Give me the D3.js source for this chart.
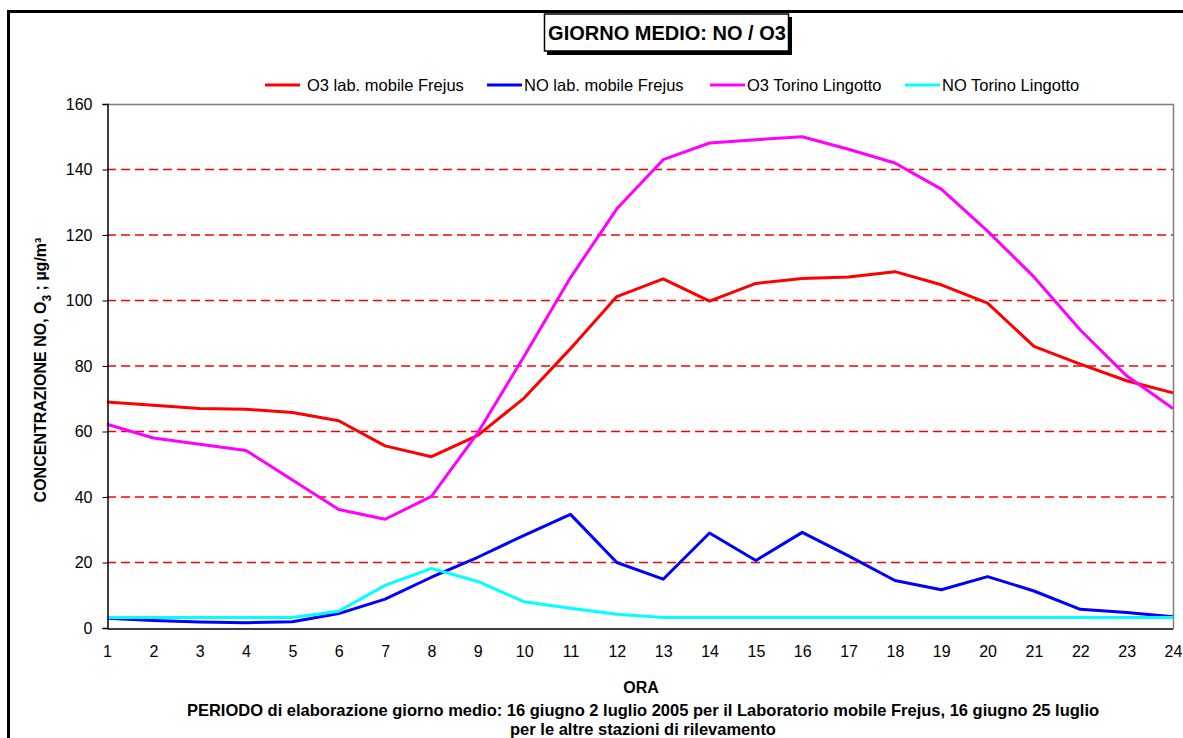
<!DOCTYPE html>
<html>
<head>
<meta charset="utf-8">
<script src="https://cdn.jsdelivr.net/npm/d3@7"></script>
<style>
  body { margin: 0; background: #fff; }
  svg { display: block; font-family: 'Liberation Sans', Arial, sans-serif; }
</style>
</head>
<body>
<svg id="chart"></svg>
<script>
const hours = d3.range(1, 25)
const yTicks = [0, 20, 40, 60, 80, 100, 120, 140, 160]

const o3Frejus = [69, 68, 67, 66.8, 65.8, 63.3, 55.6, 52.3, 58.8, 70.2, 85.3, 101.2, 106.6, 99.8, 105.2, 106.7, 107.2, 108.8, 104.8, 99.2, 86, 80.6, 75.5, 71.8]
const noFrejus = [3, 2.3, 1.8, 1.6, 1.9, 4.4, 8.8, 15.5, 21.6, 28.3, 34.7, 20, 14.9, 29, 20.6, 29.2, 22, 14.5, 11.7, 15.7, 11.3, 5.7, 4.7, 3.4]
const o3Torino = [62.2, 58, 56.1, 54.2, 45.2, 36.2, 33.2, 40.2, 59.6, 83, 107, 128, 143, 148.1, 149.1, 150, 146.2, 142, 134, 121.2, 107.2, 91, 77, 67]
const noTorino = [3.2, 3.2, 3.2, 3.2, 3.2, 5.1, 13, 18.2, 14.2, 8, 6, 4.2, 3.2, 3.2, 3.2, 3.2, 3.2, 3.2, 3.2, 3.2, 3.2, 3.2, 3.2, 3.2]

const seriesNames = ['O3 lab. mobile Frejus', 'NO lab. mobile Frejus', 'O3 Torino Lingotto', 'NO Torino Lingotto']
const seriesColors = ['#ff0000', '#0000ff', '#ff00ff', '#00ffff']
const seriesValues = [o3Frejus, noFrejus, o3Torino, noTorino]

const width = 1183
const height = 738
const plotLeft = 107
const plotRight = 1173
const plotTop = 104
const plotBottom = 628

const svg = d3.select('#chart')
  .attr('width', width)
  .attr('height', height)

svg.append('rect')
  .attr('width', width)
  .attr('height', height)
  .attr('fill', '#fff')

// outer frame, runs off the right and bottom of the picture
svg.append('rect')
  .attr('x', 8.5)
  .attr('y', 11.5)
  .attr('width', 1300)
  .attr('height', 900)
  .attr('fill', 'none')
  .attr('stroke', '#000')
  .attr('stroke-width', 3)

const xScale = d3.scalePoint()
  .domain(hours)
  .range([plotLeft, plotRight])

const yScale = d3.scaleLinear()
  .domain([0, 160])
  .range([plotBottom, plotTop])

// gridlines
svg.append('g')
  .selectAll('line')
  .data(yTicks.filter(d => d > 0 && d < 160))
  .enter()
  .append('line')
  .attr('x1', plotLeft)
  .attr('x2', plotRight)
  .attr('y1', d => yScale(d))
  .attr('y2', d => yScale(d))
  .attr('stroke', '#ff0000')
  .attr('stroke-width', 1.6)
  .attr('stroke-dasharray', '9,5')

// top and right of plot frame
svg.append('path')
  .attr('d', `M${plotLeft},${plotTop + 0.5}H${plotRight + 0.5}V${plotBottom}`)
  .attr('fill', 'none')
  .attr('stroke', '#808080')
  .attr('stroke-width', 1.5)

const line = d3.line()
  .x((d, i) => xScale(hours[i]))
  .y(d => yScale(d))

svg.append('g')
  .selectAll('path')
  .data(seriesValues)
  .enter()
  .append('path')
  .attr('d', d => line(d))
  .attr('fill', 'none')
  .attr('stroke', (d, i) => seriesColors[i])
  .attr('stroke-width', 3)
  .attr('stroke-linejoin', 'round')

// axes
const yAxis = d3.axisLeft(yScale)
  .tickValues(yTicks)
  .tickSize(5)
  .tickPadding(10)

const xAxis = d3.axisBottom(xScale)
  .tickSize(0)
  .tickPadding(17)

const gy = svg.append('g')
  .attr('transform', `translate(${plotLeft + 0.5}, 0)`)
  .call(yAxis)

const gx = svg.append('g')
  .attr('transform', `translate(0, ${plotBottom + 0.5})`)
  .call(xAxis)

for (const g of [gx, gy]) {
  g.select('.domain').attr('stroke', '#000').attr('stroke-width', 1.5)
  g.selectAll('.tick line').attr('stroke', '#000')
  g.selectAll('text')
    .attr('font-family', "'Liberation Sans', Arial, sans-serif")
    .attr('font-size', 16)
    .attr('fill', '#000')
}

// title box
svg.append('rect')
  .attr('x', 547)
  .attr('y', 17)
  .attr('width', 245)
  .attr('height', 38)
  .attr('fill', '#000')

svg.append('rect')
  .attr('x', 544.5)
  .attr('y', 14)
  .attr('width', 244)
  .attr('height', 37)
  .attr('fill', '#fff')
  .attr('stroke', '#000')
  .attr('stroke-width', 1.5)

svg.append('text')
  .attr('x', 667)
  .attr('y', 40)
  .attr('text-anchor', 'middle')
  .attr('font-weight', 'bold')
  .attr('font-size', 20)
  .text('GIORNO MEDIO: NO / O3')

// legend
const legendX = [265, 487, 710, 905]

const legend = svg.append('g')
  .selectAll('g')
  .data(seriesNames)
  .enter()
  .append('g')
  .attr('transform', (d, i) => `translate(${legendX[i]}, 85)`)

legend.append('line')
  .attr('x1', 0)
  .attr('x2', 35)
  .attr('stroke', (d, i) => seriesColors[i])
  .attr('stroke-width', 3)

legend.append('text')
  .attr('x', (d, i) => i === 0 ? 42 : 37)
  .attr('y', 6)
  .attr('font-size', 16.5)
  .text(d => d)

// y axis title
const yTitle = svg.append('text')
  .attr('transform', 'translate(46, 370) rotate(-90)')
  .attr('text-anchor', 'middle')
  .attr('font-weight', 'bold')
  .attr('font-size', 16)

yTitle.append('tspan').text('CONCENTRAZIONE NO, O')
yTitle.append('tspan').attr('dy', 5).attr('font-size', 12).text('3')
yTitle.append('tspan').attr('dy', -5).text(' ; µg/m³')

// bottom texts
svg.append('text')
  .attr('x', 641)
  .attr('y', 693)
  .attr('text-anchor', 'middle')
  .attr('font-weight', 'bold')
  .attr('font-size', 16)
  .text('ORA')

svg.append('text')
  .attr('x', 643)
  .attr('y', 716)
  .attr('text-anchor', 'middle')
  .attr('font-weight', 'bold')
  .attr('font-size', 16.5)
  .text('PERIODO di elaborazione giorno medio: 16 giugno 2 luglio 2005 per il Laboratorio mobile Frejus, 16 giugno 25 luglio')

svg.append('text')
  .attr('x', 643)
  .attr('y', 735)
  .attr('text-anchor', 'middle')
  .attr('font-weight', 'bold')
  .attr('font-size', 16.5)
  .text('per le altre stazioni di rilevamento')
</script>
</body>
</html>
